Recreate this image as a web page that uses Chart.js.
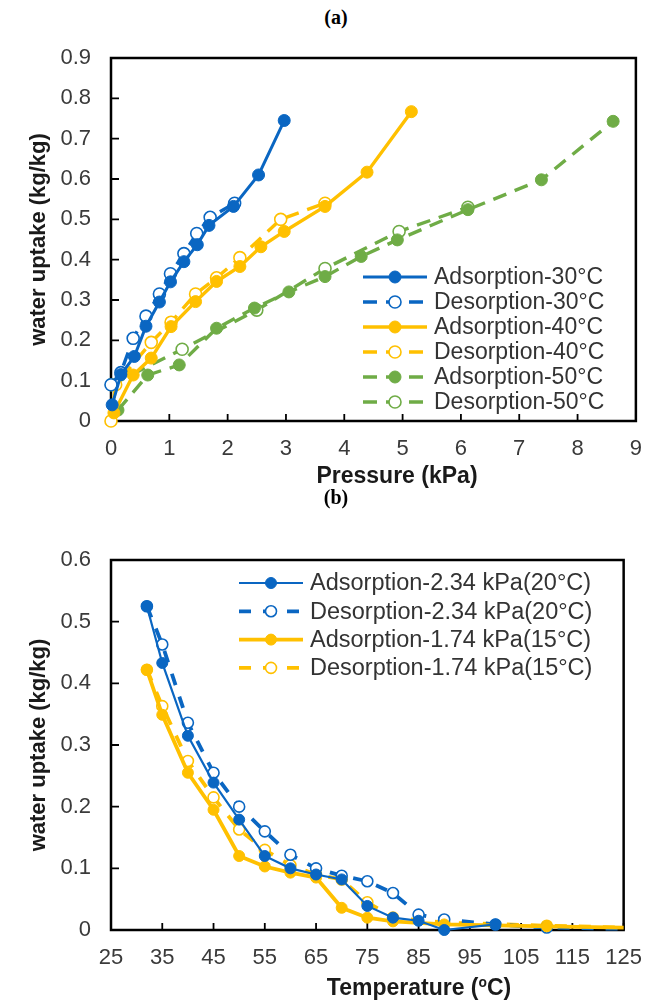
<!DOCTYPE html>
<html><head><meta charset="utf-8">
<script src="https://cdn.jsdelivr.net/npm/chart.js@4.4.0/dist/chart.umd.min.js"></script>
<style>
html,body{margin:0;padding:0;background:#fff;}
#wrap{position:relative;width:657px;height:1000px;overflow:hidden;background:#fff;}
canvas{position:absolute;left:0;}
.ptitle{position:absolute;font-family:"Liberation Serif","Times New Roman",serif;font-weight:bold;font-size:20px;color:#000;width:60px;text-align:center;line-height:20px;}
.xt{position:absolute;font-family:"Liberation Sans",Arial,sans-serif;font-weight:bold;font-size:23px;color:#1a1a1a;white-space:nowrap;line-height:26px;transform:translateX(-50%);}
.xt sup{font-size:0.6em;vertical-align:0.6em;line-height:0;}
</style></head>
<body><div id="wrap">
<div class="ptitle" style="left:306px;top:7px;">(a)</div>
<canvas id="ca" width="657" height="480" style="top:0px;"></canvas>
<div class="xt" style="left:397px;top:462px;">Pressure (kPa)</div>
<div class="ptitle" style="left:306px;top:487px;">(b)</div>
<canvas id="cb" width="657" height="500" style="top:500px;"></canvas>
<div class="xt" style="left:419px;top:974px;">Temperature (<sup>o</sup>C)</div>
</div>
<script>
// ---------- Chart (a) data ----------
const xTicksA = ["0","1","2","3","4","5","6","7","8","9"];
const yTicksA = ["0","0.1","0.2","0.3","0.4","0.5","0.6","0.7","0.8","0.9"];
const labelsA = ["Adsorption-30°C","Desorption-30°C","Adsorption-40°C","Desorption-40°C","Adsorption-50°C","Desorption-50°C"];
const ads30X = [0.02, 0.17, 0.4, 0.6, 0.83, 1.02, 1.25, 1.48, 1.68, 2.1, 2.53, 2.97];
const ads30Y = [0.04, 0.115, 0.16, 0.235, 0.295, 0.345, 0.395, 0.437, 0.485, 0.532, 0.61, 0.745];
const des30X = [0.0, 0.17, 0.38, 0.6, 0.83, 1.02, 1.25, 1.47, 1.7, 2.12];
const des30Y = [0.09, 0.12, 0.205, 0.26, 0.315, 0.365, 0.415, 0.465, 0.505, 0.54];
const ads40X = [0.05, 0.38, 0.69, 1.03, 1.45, 1.81, 2.21, 2.57, 2.97, 3.67, 4.39, 5.15];
const ads40Y = [0.02, 0.114, 0.156, 0.234, 0.296, 0.346, 0.383, 0.432, 0.47, 0.532, 0.617, 0.767];
const des40X = [0.0, 0.08, 0.69, 1.03, 1.45, 1.81, 2.21, 2.91, 3.67];
const des40Y = [0.0, 0.09, 0.195, 0.245, 0.315, 0.355, 0.405, 0.5, 0.54];
const ads50X = [0.12, 0.63, 1.17, 1.81, 2.46, 3.05, 3.67, 4.29, 4.91, 6.12, 7.38, 8.61];
const ads50Y = [0.027, 0.114, 0.139, 0.23, 0.28, 0.32, 0.358, 0.408, 0.449, 0.524, 0.598, 0.743];
const des50X = [0.01, 1.22, 2.5, 3.67, 4.94, 6.12];
const des50Y = [0.09, 0.178, 0.275, 0.378, 0.47, 0.53];

// ---------- Chart (b) data ----------
const xTicksB = ["25","35","45","55","65","75","85","95","105","115","125"];
const yTicksB = ["0","0.1","0.2","0.3","0.4","0.5","0.6"];
const labelsB = ["Adsorption-2.34 kPa(20°C)","Desorption-2.34 kPa(20°C)","Adsorption-1.74 kPa(15°C)","Desorption-1.74 kPa(15°C)"];
const ads234X = [32, 35, 40, 45, 50, 55, 60, 65, 70, 75, 80, 85, 90, 100];
const ads234Y = [0.525, 0.433, 0.315, 0.239, 0.179, 0.12, 0.1, 0.09, 0.082, 0.039, 0.02, 0.015, 0.0, 0.009];
const des234X = [32, 35, 40, 45, 50, 55, 60, 65, 70, 75, 80, 85, 90, 100, 110, 125];
const des234Y = [0.525, 0.463, 0.336, 0.255, 0.2, 0.16, 0.122, 0.1, 0.088, 0.079, 0.06, 0.025, 0.017, 0.009, 0.004, 0.002];
const ads174X = [32, 35, 40, 45, 50, 55, 60, 65, 70, 75, 80, 90, 110, 125];
const ads174Y = [0.422, 0.349, 0.255, 0.195, 0.12, 0.103, 0.093, 0.085, 0.036, 0.02, 0.014, 0.009, 0.006, 0.004];
const des174X = [32, 35, 40, 45, 50, 55, 60, 65, 70, 75, 80, 90, 110, 125];
const des174Y = [0.422, 0.363, 0.274, 0.215, 0.163, 0.13, 0.105, 0.09, 0.082, 0.045, 0.02, 0.012, 0.007, 0.004];

// ---------- styling ----------
const BLUE = "#0A66C2", ORANGE = "#FFC000", GREEN = "#6FAC46";
Chart.defaults.font.family = '"Liberation Sans", Arial, sans-serif';
Chart.defaults.color = "#3a3a3a";

function pts(xs, ys) { return xs.map((v, i) => ({x: v, y: ys[i]})); }
function ds(label, xs, ys, color, filled, dash, width, r, xmaxHide) {
  return {
    label, data: pts(xs, ys), borderColor: color, backgroundColor: color,
    borderWidth: width, borderDash: dash, showLine: true, tension: 0, fill: false, clip: false,
    pointRadius: (c) => (xmaxHide !== undefined && c.raw && c.raw.x >= xmaxHide) ? 0 : r,
    pointHoverRadius: r,
    pointBackgroundColor: filled ? color : "#fff", pointBorderColor: color,
    pointBorderWidth: filled ? 1 : 1.6, order: filled ? 0 : 1
  };
}

const framePlugin = {
  id: "frame",
  beforeDatasetsDraw(chart) {
    const {ctx, chartArea: a, scales: {x, y}} = chart;
    ctx.save();
    ctx.strokeStyle = "#000";
    ctx.lineWidth = 2.5;
    ctx.strokeRect(a.left, a.top, a.right - a.left, a.bottom - a.top);
    ctx.lineWidth = 1.8;
    ctx.beginPath();
    x.ticks.forEach(t => { const px = x.getPixelForValue(t.value); ctx.moveTo(px, a.bottom); ctx.lineTo(px, a.bottom - 7); });
    y.ticks.forEach(t => { const py = y.getPixelForValue(t.value); ctx.moveTo(a.left, py); ctx.lineTo(a.left + 8, py); });
    ctx.stroke();
    ctx.restore();
  }
};

const legendPlugin = {
  id: "boxLegend",
  afterDatasetsDraw(chart, args, o) {
    const ctx = chart.ctx;
    ctx.save();
    chart.data.datasets.forEach((d, i) => {
      const yy = o.y0 + i * o.dy;
      ctx.strokeStyle = d.borderColor;
      ctx.lineWidth = d.borderWidth;
      ctx.setLineDash(d.borderDash || []);
      ctx.beginPath(); ctx.moveTo(o.x0, yy); ctx.lineTo(o.x1, yy); ctx.stroke();
      ctx.setLineDash([]);
      const r = typeof d.pointHoverRadius === "number" ? d.pointHoverRadius : 5;
      ctx.beginPath(); ctx.arc(o.mx, yy, r, 0, Math.PI * 2);
      ctx.fillStyle = d.pointBackgroundColor; ctx.fill();
      ctx.lineWidth = d.pointBorderWidth; ctx.strokeStyle = d.pointBorderColor; ctx.stroke();
      ctx.fillStyle = o.color; ctx.font = o.font; ctx.textAlign = "left"; ctx.textBaseline = "middle";
      ctx.fillText(d.label, o.tx, yy + 1);
    });
    ctx.restore();
  }
};

function makeScales(xmin, xmax, xstep, xt, ymin, ymax, ystep, yt, xh) {
  return {
    x: {
      type: "linear", min: xmin, max: xmax,
      grid: {display: false, drawTicks: false}, border: {display: false},
      ticks: {stepSize: xstep, autoSkip: false, maxRotation: 0, padding: 15, font: {size: 22}, color: "#3a3a3a",
        callback: (v, i) => xt[i]},
      afterFit: (s) => { s.height = xh; }
    },
    y: {
      type: "linear", min: ymin, max: ymax,
      grid: {display: false, drawTicks: false}, border: {display: false},
      ticks: {stepSize: ystep, autoSkip: false, padding: 20, font: {size: 22}, color: "#3a3a3a",
        callback: (v, i) => yt[i]},
      title: {display: true, text: "water uptake (kg/kg)", font: {size: 22, weight: "bold"}, color: "#1a1a1a", padding: 0},
      afterFit: (s) => { s.width = 85; }
    }
  };
}

new Chart(document.getElementById("ca"), {
  type: "scatter",
  data: {
    datasets: [
      ds(labelsA[0], ads30X, ads30Y, BLUE, true, [], 3, 6),
      ds(labelsA[1], des30X, des30Y, BLUE, false, [14, 9], 3.4, 6),
      ds(labelsA[2], ads40X, ads40Y, ORANGE, true, [], 3.4, 6),
      ds(labelsA[3], des40X, des40Y, ORANGE, false, [14, 9], 3.4, 6),
      ds(labelsA[4], ads50X, ads50Y, GREEN, true, [14, 9], 3.4, 6),
      ds(labelsA[5], des50X, des50Y, GREEN, false, [14, 9], 3.4, 6)
    ]
  },
  options: {
    responsive: false, animation: false, events: [],
    layout: {padding: {left: 26, right: 13, top: 58, bottom: 0}},
    scales: makeScales(0, 9, 1, xTicksA, 0, 0.9, 0.1, yTicksA, 59),
    plugins: {
      legend: {display: false}, tooltip: {enabled: false},
      boxLegend: {x0: 363, x1: 427, mx: 395, tx: 434, y0: 277, dy: 25, font: '23px "Liberation Sans", Arial, sans-serif', color: "#333"}
    }
  },
  plugins: [framePlugin, legendPlugin]
});

new Chart(document.getElementById("cb"), {
  type: "scatter",
  data: {
    datasets: [
      ds(labelsB[0], ads234X, ads234Y, BLUE, true, [], 2.2, 5.5, 125),
      ds(labelsB[1], des234X, des234Y, BLUE, false, [12, 12], 3.8, 5.5, 125),
      ds(labelsB[2], ads174X, ads174Y, ORANGE, true, [], 3.8, 5.5, 125),
      ds(labelsB[3], des174X, des174Y, ORANGE, false, [12, 12], 3.8, 5.5, 125)
    ]
  },
  options: {
    responsive: false, animation: false, events: [],
    layout: {padding: {left: 26, right: 25, top: 60, bottom: 0}},
    scales: makeScales(25, 125, 10, xTicksB, 0, 0.6, 0.1, yTicksB, 70),
    plugins: {
      legend: {display: false}, tooltip: {enabled: false},
      boxLegend: {x0: 239, x1: 303, mx: 271, tx: 310, y0: 83, dy: 28.3, font: '23.5px "Liberation Sans", Arial, sans-serif', color: "#333"}
    }
  },
  plugins: [framePlugin, legendPlugin]
});
</script>
</body></html>
